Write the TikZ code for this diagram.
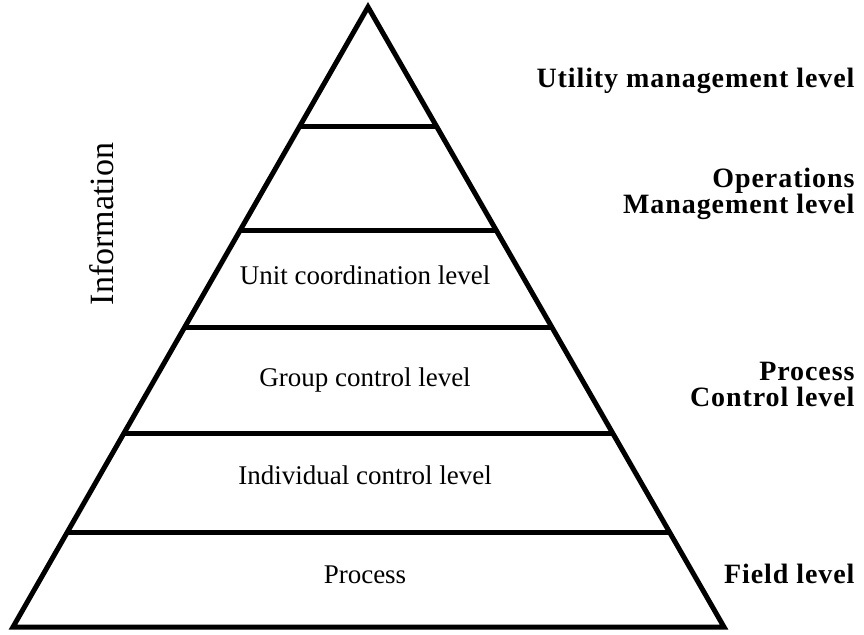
\documentclass[tikz,border=0pt]{standalone}
\usepackage{fontspec}
\setmainfont{Liberation Serif}
\newfontfamily\lvlfont[LetterSpace=3.3]{Liberation Serif}
\usetikzlibrary{calc}

\tikzset{
  band/.style={font=\fontsize{27}{30}\selectfont, anchor=base},
  lvl/.style={font=\lvlfont\bfseries\fontsize{28}{26}\selectfont, anchor=base east, align=right, inner sep=0pt},
}

\begin{document}
\begin{tikzpicture}[x=1pt, y=-1pt, line width=5pt]
\useasboundingbox (0,0) rectangle (864,634);
% pyramid outline
\coordinate (apex) at (368,7);
\coordinate (bl) at (13,627);
\coordinate (br) at (724,627);
\draw[line join=miter] (bl) -- (apex) -- (br) -- cycle;
% level separators
\foreach \t in {0.1935,0.3597,0.5177,0.6871,0.8468}
  \draw ($(apex)!\t!(bl)$) -- ($(apex)!\t!(br)$);
% levels inside
\node[band] (unit) at (365,284) {Unit coordination level};
\node[band] (group) at (365,386) {Group control level};
\node[band] (indiv) at (365,484) {Individual control level};
\node[band] (proc) at (365,583) {Process};
\node[font=\fontsize{34}{36}\selectfont, rotate=90, anchor=base] (info) at (113,224) {Information};
% levels on the right (base = last line)
\node[lvl] (util) at (857,88) {Utility management level};
\node[lvl] (ops) at (857,213) {Operations\\Management level};
\node[lvl] (pctl) at (857,406) {Process\\Control level};
\node[lvl] (field) at (857,583) {Field level};
\end{tikzpicture}
\end{document}
